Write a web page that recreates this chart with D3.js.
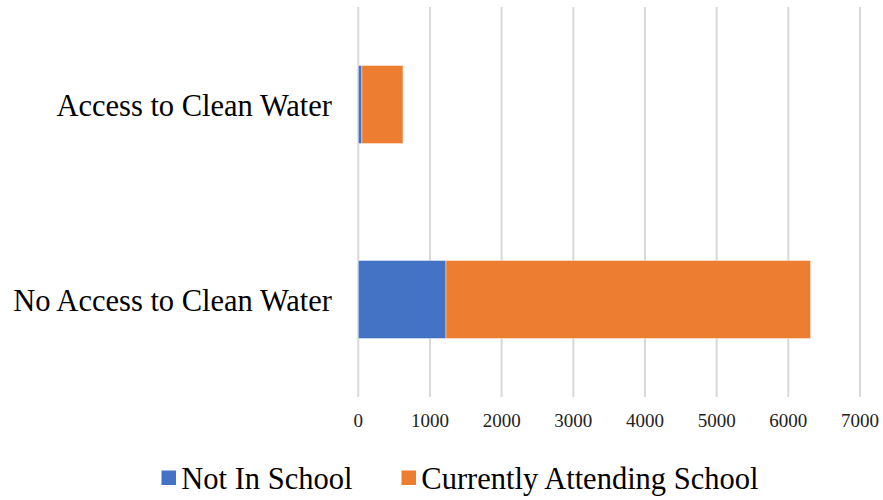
<!DOCTYPE html>
<html>
<head>
<meta charset="utf-8">
<script src="https://cdn.jsdelivr.net/npm/d3@7"></script>
<style>
  html, body { margin: 0; padding: 0; background: #fff; }
  svg { display: block; }
</style>
</head>
<body>
<svg id="chart" width="883" height="500"></svg>
<script>
// Water access groups, top to bottom
const categories = ["Access to Clean Water", "No Access to Clean Water"];
// Stacked series values
const notInSchool = [50, 1223];
const attendingSchool = [573, 5087];
const seriesNames = ["Not In School", "Currently Attending School"];
const seriesColors = ["#4472C4", "#ED7D31"];
const tickValues = [0, 1000, 2000, 3000, 4000, 5000, 6000, 7000];

const svg = d3.select("#chart");
const serif = "'Liberation Serif', 'Times New Roman', Times, serif";

const x = d3.scaleLinear().domain([0, 7000]).range([358.3, 860]);
const y = d3.scaleBand().domain(categories).range([7, 397])
  .paddingInner(0.6).paddingOuter(0.3);

// Vertical gridlines
svg.append("g").selectAll("line").data(tickValues).join("line")
  .attr("x1", d => x(d)).attr("x2", d => x(d))
  .attr("y1", 7).attr("y2", 397)
  .attr("stroke", "#d9d9d9").attr("stroke-width", 2);

// Stack the two series
const rows = categories.map((c, i) => ({ cat: c, a: notInSchool[i], b: attendingSchool[i] }));
const stacked = d3.stack().keys(["a", "b"])(rows);

svg.append("g").selectAll("g").data(stacked).join("g")
  .attr("fill", (d, i) => seriesColors[i])
  .selectAll("rect").data(d => d).join("rect")
  .attr("x", d => x(d[0]))
  .attr("width", d => x(d[1]) - x(d[0]))
  .attr("y", d => y(d.data.cat))
  .attr("height", y.bandwidth())
  .attr("stroke", "#ffffff").attr("stroke-opacity", 0.5).attr("stroke-width", 0.8);

// Category labels
svg.append("g").selectAll("text").data(categories).join("text")
  .attr("x", 332)
  .attr("y", d => y(d) + y.bandwidth() / 2 + 11)
  .attr("text-anchor", "end")
  .attr("font-family", serif).attr("font-size", 30.5)
  .attr("fill", "#000")
  .text(d => d);

// Value axis tick labels
svg.append("g").selectAll("text").data(tickValues).join("text")
  .attr("x", d => x(d))
  .attr("y", 427)
  .attr("text-anchor", "middle")
  .attr("font-family", serif).attr("font-size", 19)
  .attr("fill", "#222")
  .text(d => d);

// Legend
const legendPos = [161.5, 401.5];
const legend = svg.append("g").selectAll("g").data(seriesNames).join("g")
  .attr("transform", (d, i) => `translate(${legendPos[i]},0)`);
legend.append("rect")
  .attr("x", 0).attr("y", 470.5).attr("width", 14.5).attr("height", 14.5)
  .attr("fill", (d, i) => seriesColors[i]);
legend.append("text")
  .attr("x", 19.8).attr("y", 489)
  .attr("font-family", serif).attr("font-size", 30.5)
  .attr("fill", "#000")
  .text(d => d);
</script>
</body>
</html>
